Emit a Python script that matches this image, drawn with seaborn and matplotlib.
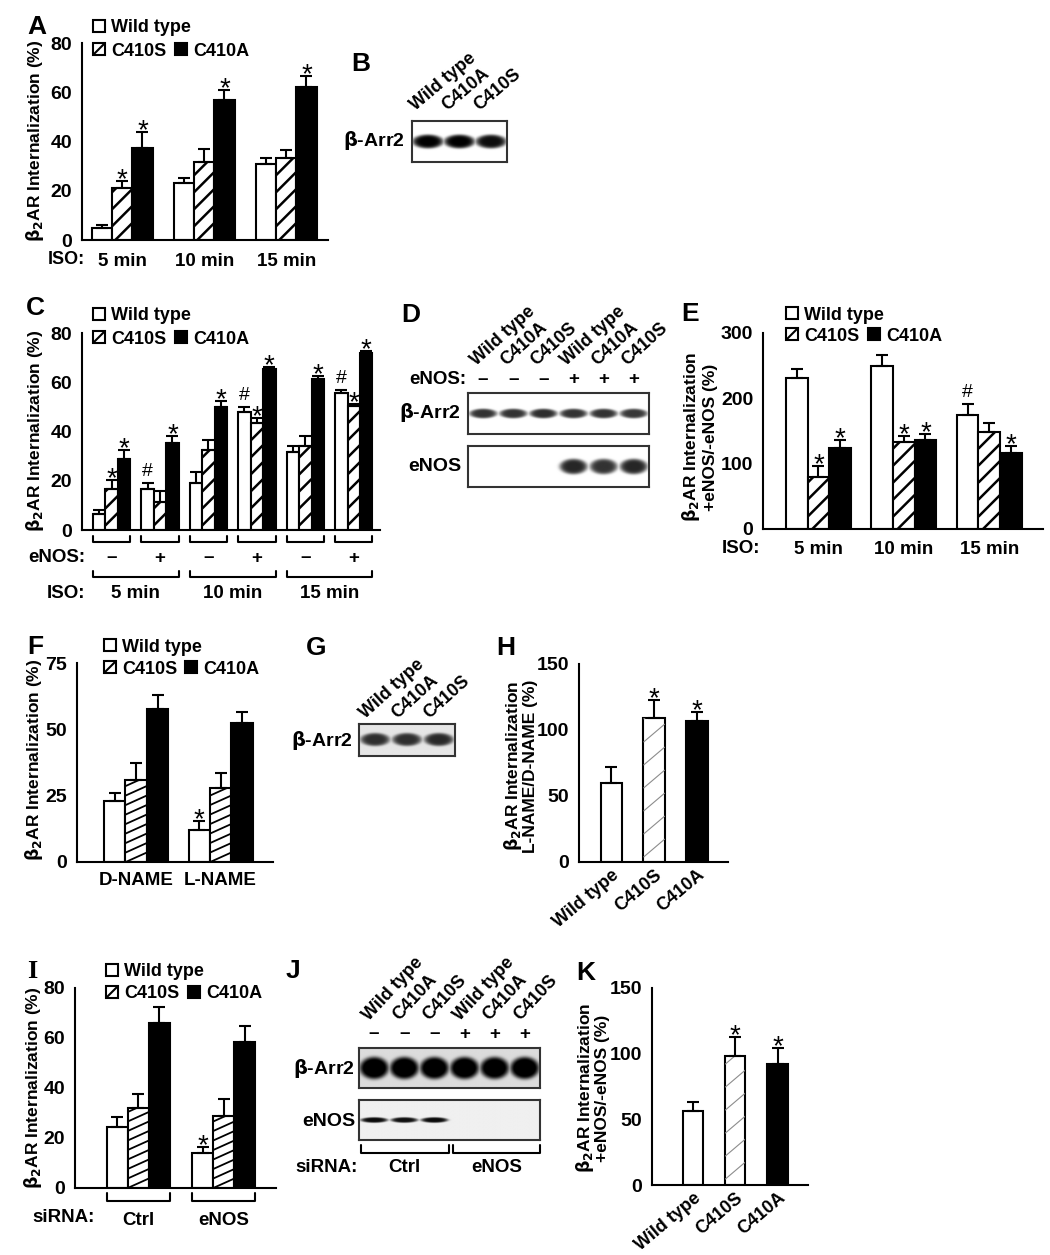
import numpy as np
import pandas as pd
import matplotlib
matplotlib.use("Agg")
import matplotlib.pyplot as plt
import matplotlib.transforms as mtransforms
from matplotlib.patches import Rectangle
from matplotlib.lines import Line2D
import seaborn as sns

W, H = 1050, 1255

genotypes = ["Wild type", "C410S", "C410A"]
blot_lanes = ["Wild type", "C410A", "C410S"]

# A: internalization over time
a_cats = ["5 min", "10 min", "15 min"]
a_mean = [[5, 23, 31], [21, 31.5, 33.5], [37.5, 57, 62]]
a_err = [[1, 2, 2.5], [3, 5.5, 3], [6.5, 4, 4.5]]
a_sig = [(0, 1, "*"), (0, 2, "*"), (1, 2, "*"), (2, 2, "*")]

# B: blot
b_arr2 = [1.0, 1.0, 0.95]

# C: +/- eNOS
c_cats = ["5-", "5+", "10-", "10+", "15-", "15+"]
c_enos = ["–", "+", "–", "+", "–", "+"]
c_times = ["5 min", "10 min", "15 min"]
c_mean = [[6.5, 16.5, 19, 48, 31.5, 55.5],
          [16.5, 11.5, 32.5, 43.5, 34, 50.5],
          [29, 35.5, 50, 65.5, 61.5, 72]]
c_err = [[1.5, 2.5, 4.5, 2, 2.5, 1.2],
         [4, 4.5, 4, 2, 4, 0.8],
         [3.5, 2.5, 2.5, 0.8, 1.2, 0.8]]
c_sig = [(0, 1, "*"), (0, 2, "*"), (1, 0, "#"), (1, 2, "*"), (2, 2, "*"),
         (3, 0, "#"), (3, 1, "*"), (3, 2, "*"), (4, 2, "*"),
         (5, 0, "#"), (5, 1, "*"), (5, 2, "*")]

# D: blots
d_arr2 = [0.8, 0.8, 0.82, 0.8, 0.8, 0.78]
d_enos = [0, 0, 0, 0.85, 0.8, 0.85]
d_sign = ["–", "–", "–", "+", "+", "+"]

# E: ratio +eNOS/-eNOS
e_cats = ["5 min", "10 min", "15 min"]
e_mean = [[231, 250, 175], [79, 133, 149], [124, 136, 116]]
e_err = [[14, 17, 16], [17, 10, 13], [12, 9, 11]]
e_sig = [(0, 1, "*"), (0, 2, "*"), (1, 1, "*"), (1, 2, "*"), (2, 0, "#"), (2, 2, "*")]

# F: D-NAME / L-NAME
f_cats = ["D-NAME", "L-NAME"]
f_mean = [[23, 12], [31, 28], [57.5, 52.5]]
f_err = [[3, 3.5], [6.5, 5.5], [5.5, 4]]
f_sig = [(1, 0, "*")]

# G: blot
g_arr2 = [0.72, 0.72, 0.74]

# H: L-NAME / D-NAME ratio
h_mean = [60, 109, 107]
h_err = [12, 14, 7]
h_sig = [1, 2]

# I: siRNA
i_cats = ["Ctrl", "eNOS"]
i_mean = [[24.5, 14], [32, 29], [66, 58.5]]
i_err = [[4, 2.5], [5.5, 6.5], [6.5, 6.5]]
i_sig = [(1, 0, "*")]

# J: blots
j_arr2 = [1.0, 1.0, 1.0, 1.0, 0.98, 1.0]
j_enos = [0.9, 0.88, 0.9, 0, 0, 0]
j_sign = ["–", "–", "–", "+", "+", "+"]

# K: +eNOS/-eNOS ratio
k_mean = [56, 98, 92]
k_err = [7, 15, 12]
k_sig = [1, 2]

sns.set_theme(style="white")
plt.rcParams["font.family"] = ["Liberation Sans", "DejaVu Sans"]
plt.rcParams["font.weight"] = "bold"
plt.rcParams["axes.labelweight"] = "bold"
plt.rcParams["axes.edgecolor"] = "black"
plt.rcParams["ytick.color"] = "black"
plt.rcParams["xtick.color"] = "black"
plt.rcParams["text.color"] = "black"
plt.rcParams["axes.labelcolor"] = "black"
plt.rcParams["mathtext.fontset"] = "dejavusans"

fig = plt.figure(figsize=(W / 100, H / 100), dpi=100)
fig.patch.set_facecolor("white")


def px_rect(l, t, r, b):
    return [l / W, 1 - b / H, (r - l) / W, (b - t) / H]


def ftext(x, y, s, **kw):
    kw.setdefault("fontsize", 13)
    return fig.text(x / W, 1 - y / H, s, **kw)


def fline(xs, ys, lw=1.5, color="black"):
    fig.add_artist(Line2D([x / W for x in xs], [1 - y / H for y in ys],
                          transform=fig.transFigure, lw=lw, color=color))


def letter(x, y, s, **kw):
    ftext(x, y, s, fontsize=19, va="center", ha="left", **kw)


def legend_px(x, y1, y2, dx2=82):
    box = 12
    items = [(x, y1, "Wild type", "white"), (x, y2, "C410S", "white"),
             (x + dx2, y2, "C410A", "black")]
    for bx, by, lab, fc in items:
        fig.add_artist(Rectangle((bx / W, 1 - (by + box / 2) / H), box / W, box / H,
                                 transform=fig.transFigure, fc=fc, ec="black", lw=1.5))
        if lab == "C410S":
            fline([bx, bx + box], [by + box / 2, by - box / 2], lw=1.5)
        ftext(bx + box + 6, by, lab, fontsize=13, va="center_baseline", ha="left")


def hatch_bar(ax, p, slope, step, lw, color):
    x0, y0 = ax.transData.transform((p.get_x(), 0))
    x1, y1 = ax.transData.transform((p.get_x() + p.get_width(), p.get_height()))
    w = x1 - x0
    inv = ax.transData.inverted()
    for c in np.arange(y0 - slope * w, y1 + step, step):
        pts = inv.transform([(x0, c), (x1, c + slope * w)])
        ln, = ax.plot(pts[:, 0], pts[:, 1], color=color, lw=lw, solid_capstyle="butt")
        ln.set_clip_path(p)


def mark(ax, x, top, sym):
    if sym == "*":
        ax.annotate("*", (x, top), xytext=(0, -4.5), textcoords="offset points",
                    ha="center", va="baseline", fontsize=20, fontweight="normal")
    else:
        ax.annotate("#", (x, top), xytext=(0, 5), textcoords="offset points",
                    ha="center", va="baseline", fontsize=14, fontweight="normal")


def style_axes(ax, ylim, yticks, xlim, ylabel, ylab_xy, xpad=8):
    ax.set_xlim(*xlim)
    ax.set_ylim(*ylim)
    ax.set_yticks(yticks)
    ax.set_autoscale_on(False)
    sns.despine(ax=ax)
    for s in ["left", "bottom"]:
        ax.spines[s].set_linewidth(1.5)
    ax.tick_params(axis="y", direction="out", length=5, width=1.5, labelsize=14, pad=2)
    ax.tick_params(axis="x", length=0, labelsize=13.5, pad=xpad)
    ax.set_xlabel("")
    ax.set_ylabel(ylabel, fontsize=12.5, fontweight="bold", ha="center", va="center",
                  linespacing=1.0)
    ax.yaxis.set_label_coords(ylab_xy[0] / W, 1 - ylab_xy[1] / H, transform=fig.transFigure)
    ax.patch.set_alpha(0)


def grouped_panel(box, cats, means, errs, sig, width, ylim, yticks, xlim, ylabel,
                  ylab_xy, hatch=(1.0, 17, 1.8, "black"), xpad=8):
    ax = fig.add_axes(px_rect(*box))
    rows = []
    for g, ms, es in zip(genotypes, means, errs):
        for c, m, e in zip(cats, ms, es):
            rows.append((c, g, m, e))
    df = pd.DataFrame(rows, columns=["cat", "genotype", "mean", "err"])
    sns.barplot(data=df, x="cat", y="mean", hue="genotype", order=cats,
                hue_order=genotypes, palette=["white", "white", "black"],
                saturation=1, errorbar=None, width=width, edgecolor="black",
                linewidth=1.5, legend=False, ax=ax)
    style_axes(ax, ylim, yticks, xlim, ylabel, ylab_xy, xpad)
    bars = sorted(ax.patches, key=lambda p: p.get_x())
    grid = {}
    for k, p in enumerate(bars):
        ci, gi = divmod(k, 3)
        grid[(ci, gi)] = p
    xs, tops, ers = [], [], []
    for (ci, gi), p in grid.items():
        xs.append(p.get_x() + p.get_width() / 2)
        tops.append(p.get_height())
        ers.append(errs[gi][ci])
        if gi == 1:
            hatch_bar(ax, p, *hatch)
    ax.errorbar(xs, tops, yerr=[np.zeros(len(ers)), ers], fmt="none", ecolor="black",
                elinewidth=1.5, capsize=4, capthick=1.5)
    for ci, gi, sym in sig:
        p = grid[(ci, gi)]
        mark(ax, p.get_x() + p.get_width() / 2, p.get_height() + errs[gi][ci], sym)
    return ax, grid


def single_panel(box, vals, errs, sig, width, xlim, ylabel, ylab_xy):
    ax = fig.add_axes(px_rect(*box))
    df = pd.DataFrame({"genotype": genotypes, "mean": vals})
    sns.barplot(data=df, x="genotype", y="mean", hue="genotype", order=genotypes,
                hue_order=genotypes, palette=["white", "white", "black"], dodge=False,
                saturation=1, errorbar=None, width=width, edgecolor="black",
                linewidth=1.5, legend=False, ax=ax)
    style_axes(ax, (0, 150), [0, 50, 100, 150], xlim, ylabel, ylab_xy, xpad=3)
    for lab in ax.get_xticklabels():
        lab.set_rotation(40)
        lab.set_ha("right")
        lab.set_va("top")
        lab.set_rotation_mode("anchor")
        lab.set_fontsize(13)
    bars = sorted(ax.patches, key=lambda p: p.get_x())
    xs = [p.get_x() + p.get_width() / 2 for p in bars]
    tops = [p.get_height() for p in bars]
    hatch_bar(ax, bars[1], 0.85, 23, 0.8, "0.55")
    ax.errorbar(xs, tops, yerr=[np.zeros(3), errs], fmt="none", ecolor="black",
                elinewidth=1.5, capsize=4, capthick=1.5)
    for gi in sig:
        mark(ax, xs[gi], tops[gi] + errs[gi], "*")
    return ax


def blot(box, levels, band_h, band_w=0.9, bg=0.0, yc=0.5):
    ax = fig.add_axes(px_rect(*box))
    n = len(levels)
    yy, xx = np.mgrid[0:1:90j, 0:n:(70 * n) * 1j]
    img = np.full(xx.shape, bg)
    for i, lv in enumerate(levels):
        r = ((xx - (i + 0.5)) / (band_w / 2)) ** 2 + ((yy - yc) / band_h) ** 2
        img = np.maximum(img, bg + lv * np.exp(-r ** 3))
    ax.imshow(np.clip(img, 0, 1), cmap="gray_r", vmin=0, vmax=1, aspect="auto",
              extent=(0, n, 1, 0), interpolation="bilinear")
    ax.set_xticks([])
    ax.set_yticks([])
    for s in ax.spines.values():
        s.set_visible(True)
        s.set_linewidth(1.5)
        s.set_color("0.2")
    return ax


def lane_centers(box, n):
    l, r = box[0], box[2]
    return [l + (i + 0.5) * (r - l) / n for i in range(n)]


def lane_labels(box, names, y, off, rot):
    for x, nm in zip(lane_centers(box, len(names)), names):
        ftext(x - off, y, nm, fontsize=13, rotation=rot, rotation_mode="anchor",
              ha="left", va="baseline")


ylab = r"$\mathrm{\beta_2}$AR Internalization (%)"

# ---------------- A ----------------
letter(27, 27, "A")
legend_px(93, 26, 49)
ax_a, _ = grouped_panel((82, 43, 328, 240), a_cats, a_mean, a_err, a_sig, 0.74,
                        (0, 80), [0, 20, 40, 60, 80], (-0.49, 2.51), ylab, (35, 141),
                        xpad=9)
ftext(85, 259, "ISO:", ha="right", va="center")

# ---------------- B ----------------
letter(351, 64, "B")
b_box = (412, 121, 507, 162)
blot(b_box, b_arr2, 0.17, band_w=0.98)
lane_labels(b_box, blot_lanes, 111, 12, 40)
ftext(405, 141, r"$\mathrm{\beta}$-Arr2", ha="right", va="center", fontsize=14)

# ---------------- C ----------------
letter(26, 308, "C")
legend_px(93, 314, 337)
ax_c, grid_c = grouped_panel((82, 333, 380, 530), c_cats, c_mean, c_err, c_sig, 0.77,
                             (0, 80), [0, 20, 40, 60, 80], (-0.61, 5.54), ylab, (35, 431))
ax_c.set_xticklabels([])
blend_c = mtransforms.blended_transform_factory(ax_c.transData, fig.transFigure)
hw = 0.77 / 2
for ci, sgn in enumerate(c_enos):
    ax_c.plot([ci - hw, ci - hw, ci + hw, ci + hw],
              [1 - 536 / H, 1 - 542 / H, 1 - 542 / H, 1 - 536 / H],
              transform=blend_c, color="black", lw=1.5, clip_on=False)
    ax_c.text(ci, 1 - 558 / H, sgn, transform=blend_c, ha="center", va="center", fontsize=13.5)
for ti, tl in enumerate(c_times):
    a0, a1 = 2 * ti - hw, 2 * ti + 1 + hw
    ax_c.plot([a0, a0, a1, a1], [1 - 571 / H, 1 - 577 / H, 1 - 577 / H, 1 - 571 / H],
              transform=blend_c, color="black", lw=1.5, clip_on=False)
    ax_c.text(2 * ti + 0.5, 1 - 593 / H, tl, transform=blend_c, ha="center",
              va="center", fontsize=13.5)
ftext(85, 558, "eNOS:", ha="right", va="center", fontsize=13.5)
ftext(85, 593, "ISO:", ha="right", va="center", fontsize=13.5)

# ---------------- D ----------------
letter(401, 315, "D")
d_box1 = (468, 393, 649, 434)
d_box2 = (468, 446, 649, 487)
blot(d_box1, d_arr2, 0.12, band_w=0.92)
blot(d_box2, d_enos, 0.19, band_w=0.92)
lane_labels(d_box1, blot_lanes * 2, 366, 7, 42)
for x, sgn in zip(lane_centers(d_box1, 6), d_sign):
    ftext(x, 380, sgn, ha="center", va="center", fontsize=13.5)
ftext(466, 380, "eNOS:", ha="right", va="center", fontsize=13.5)
ftext(461, 413, r"$\mathrm{\beta}$-Arr2", ha="right", va="center", fontsize=14)
ftext(461, 467, "eNOS", ha="right", va="center", fontsize=14)

# ---------------- E ----------------
letter(681, 314, "E")
legend_px(786, 313, 334)
grouped_panel((763, 333, 1043, 529), e_cats, e_mean, e_err, e_sig, 0.76,
              (0, 300), [0, 100, 200, 300], (-0.65, 2.63),
              r"$\mathrm{\beta_2}$AR Internalization" + "\n+eNOS/-eNOS (%)", (699, 437),
              xpad=9)
ftext(760, 549, "ISO:", ha="right", va="center", fontsize=13.5)

# ---------------- F ----------------
letter(27, 647, "F")
legend_px(104, 645, 667, dx2=81)
grouped_panel((77, 663, 273, 862), f_cats, f_mean, f_err, f_sig, 0.76,
              (0, 75), [0, 25, 50, 75], (-0.70, 1.62), ylab, (34, 760),
              hatch=(0.45, 9.5, 1.3, "black"), xpad=7)

# ---------------- G ----------------
letter(306, 648, "G")
g_box = (359, 724, 455, 756)
blot(g_box, g_arr2, 0.2, band_w=0.92, bg=0.1)
lane_labels(g_box, blot_lanes, 719, 10, 42)
ftext(353, 740, r"$\mathrm{\beta}$-Arr2", ha="right", va="center", fontsize=14)

# ---------------- H ----------------
letter(496, 648, "H")
single_panel((579, 664, 728, 862), h_mean, h_err, h_sig, 0.5, (-0.76, 2.73),
             r"$\mathrm{\beta_2}$AR Internalization" + "\nL-NAME/D-NAME (%)", (520, 766))

# ---------------- I ----------------
letter(27, 971, "I", family=["Liberation Serif", "DejaVu Serif"])
legend_px(106, 970, 992)
ax_i, _ = grouped_panel((75, 988, 276, 1188), i_cats, i_mean, i_err, i_sig, 0.74,
                        (0, 80), [0, 20, 40, 60, 80], (-0.74, 1.61), ylab, (33, 1088),
                        hatch=(0.45, 9.5, 1.3, "black"), xpad=17)
blend_i = mtransforms.blended_transform_factory(ax_i.transData, fig.transFigure)
for ci in range(len(i_cats)):
    ax_i.plot([ci - 0.37, ci - 0.37, ci + 0.37, ci + 0.37],
              [1 - 1193 / H, 1 - 1201 / H, 1 - 1201 / H, 1 - 1193 / H],
              transform=blend_i, color="black", lw=1.5, clip_on=False)
ftext(95, 1217, "siRNA:", ha="right", va="center", fontsize=13.5)

# ---------------- J ----------------
letter(286, 971, "J")
j_box1 = (359, 1048, 540, 1088)
j_box2 = (359, 1100, 540, 1140)
blot(j_box1, j_arr2, 0.28, band_w=0.96, bg=0.14)
blot(j_box2, j_enos, 0.07, band_w=0.9, bg=0.06)
lane_labels(j_box1, blot_lanes * 2, 1021, 5, 47)
for x, sgn in zip(lane_centers(j_box1, 6), j_sign):
    ftext(x, 1034, sgn, ha="center", va="center", fontsize=13.5)
ftext(355, 1069, r"$\mathrm{\beta}$-Arr2", ha="right", va="center", fontsize=14)
ftext(355, 1122, "eNOS", ha="right", va="center", fontsize=14)
for x0, x1 in [(361, 449), (453, 540)]:
    fline([x0, x0, x1, x1], [1145, 1153, 1153, 1145])
ftext(358, 1168, "siRNA:", ha="right", va="center", fontsize=13.5)
ftext(404, 1168, "Ctrl", ha="center", va="center", fontsize=13.5)
ftext(497, 1168, "eNOS", ha="center", va="center", fontsize=13.5)

# ---------------- K ----------------
letter(576, 973, "K")
single_panel((652, 988, 808, 1185), k_mean, k_err, k_sig, 0.48, (-0.97, 2.72),
             r"$\mathrm{\beta_2}$AR Internalization" + "\n+eNOS/-eNOS (%)", (592, 1088))

fig.savefig("out.png", dpi=100, facecolor="white")
